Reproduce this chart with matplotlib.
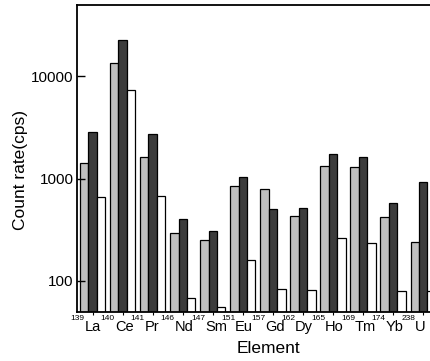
"""Count rates per isotope, three series, log scale."""

import numpy as np
import matplotlib
matplotlib.use('Agg')
import matplotlib.pyplot as plt
from matplotlib.ticker import FixedLocator, NullLocator, FixedFormatter
from matplotlib.transforms import offset_copy

plt.rcParams['font.family'] = ['Liberation Sans', 'DejaVu Sans']

masses = ['139', '140', '141', '146', '147', '151', '157', '162', '165', '169', '174', '238']
elements = ['La', 'Ce', 'Pr', 'Nd', 'Sm', 'Eu', 'Gd', 'Dy', 'Ho', 'Tm', 'Yb', 'U']

series_gray = [1420, 13500, 1630, 294, 252, 853, 784, 434, 1340, 1290, 424, 240]
series_dark = [2860, 22500, 2750, 403, 309, 1036, 500, 512, 1726, 1626, 581, 918]
series_white = [655, 7410, 676, 68, 55, 158, 83, 80.5, 260, 234, 80, 79]

fig = plt.figure(figsize=(4.30, 3.61), dpi=100)
ax = fig.add_axes([0.179, 0.137, 0.84, 0.849])

x = np.arange(len(elements))
w = 0.28
for off, vals, col in [(-w, series_gray, '#c0c0c0'),
                       (0, series_dark, '#3c3c3c'),
                       (w, series_white, 'white')]:
    ax.bar(x + off, vals, w, color=col, edgecolor='black', linewidth=0.9)

ax.set_yscale('log')
ax.set_ylim(50, 50000)
ax.set_xlim(-0.52, 11.5)

ax.yaxis.set_major_locator(FixedLocator([100, 1000, 10000]))
ax.yaxis.set_major_formatter(FixedFormatter(['100', '1000', '10000']))
ax.yaxis.set_minor_locator(NullLocator())
ax.tick_params(axis='y', direction='in', length=6, width=1, labelsize=11, pad=2.5)

ax.set_xticks(x)
ax.set_xticklabels([])
ax.tick_params(axis='x', direction='out', length=2, width=0.8)

# isotope labels: small mass number raised, element symbol after it
xt = ax.get_xaxis_transform()
sup_tr = offset_copy(xt, fig=fig, x=0, y=-8.5, units='dots')
for i, (m, el) in enumerate(zip(masses, elements)):
    sup = ax.text(i - 0.73, 0, m, transform=sup_tr, ha='left', va='baseline',
                  fontsize=6)
    ax.annotate(el, xy=(1, 0), xycoords=(sup, xt), xytext=(0, -19.5),
                textcoords='offset pixels', ha='left', va='baseline', fontsize=10.5)

ax.set_ylabel('Count rate(cps)', fontsize=12.5)
ax.yaxis.set_label_coords(-0.135, 0.462)
ax.set_xlabel('Element', fontsize=12.5)
ax.xaxis.set_label_coords(0.53, -0.096)

for s in ax.spines.values():
    s.set_linewidth(1.3)

fig.savefig('out.png', dpi=100)
